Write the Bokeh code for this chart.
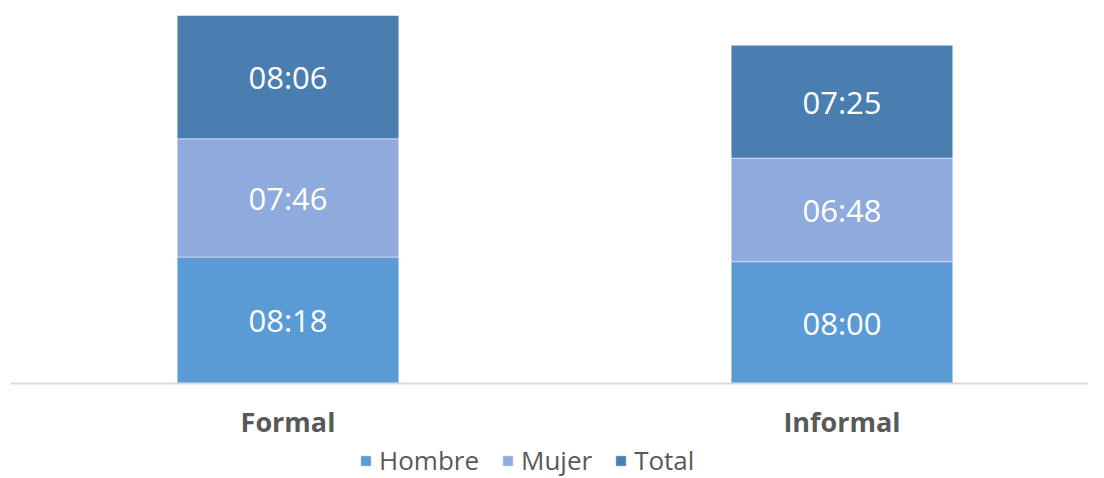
from bokeh.plotting import figure
from bokeh.models import ColumnDataSource, Range1d, Legend, LegendItem, LabelSet, Span
from bokeh.core.properties import value
from bokeh.embed import file_html
from bokeh.resources import INLINE

categories = ["Formal", "Informal"]
series = ["Hombre", "Mujer", "Total"]
hombre = ["08:18", "08:00"]
mujer = ["07:46", "06:48"]
total = ["08:06", "07:25"]
colors = ["#5B9BD5", "#8FAADC", "#4A7EB0"]

def to_h(s):
    h, m = s.split(":")
    return int(h) + int(m) / 60.0

vals = {"Hombre": [to_h(v) for v in hombre],
        "Mujer": [to_h(v) for v in mujer],
        "Total": [to_h(v) for v in total]}
labels = {"Hombre": hombre, "Mujer": mujer, "Total": total}

xs = list(range(len(categories)))

p = figure(width=1088, height=478, output_backend="svg", toolbar_location=None,
           x_range=Range1d(-0.5009, 1.445), y_range=Range1d(-6.24, 25.15),
           min_border_left=10, min_border_right=0, min_border_top=0, min_border_bottom=0)
p.outline_line_color = None
p.grid.visible = False
p.axis.visible = False

font = "Open Sans"
bottom = [0.0] * len(xs)
renderers = []
for s, c in zip(series, colors):
    top = [b + v for b, v in zip(bottom, vals[s])]
    mid = [(b + t) / 2 for b, t in zip(bottom, top)]
    src = ColumnDataSource(dict(x=xs, bottom=bottom, top=top, mid=mid, lab=labels[s]))
    r = p.vbar(x="x", bottom="bottom", top="top", width=0.4, source=src,
               fill_color=c, line_color="white", line_width=0.8, line_alpha=0.6)
    renderers.append(r)
    ls = LabelSet(x="x", y="mid", text="lab", source=src, text_color="white",
                  text_font=value(font), text_font_size="31px", text_align="center",
                  text_baseline="middle")
    p.add_layout(ls)
    bottom = top

# category axis
p.add_layout(Span(location=0, dimension="width", line_color="#D9D9D9", line_width=2))
p.text(x=xs, y=[0] * len(xs), text=categories, y_offset=38,
       text_font=value(font), text_font_style="bold", text_font_size="27px",
       text_color="#595959", text_align="center", text_baseline="middle")

legend = Legend(items=[LegendItem(label=s, renderers=[r]) for s, r in zip(series, renderers)],
                orientation="horizontal", location=(349, 0),
                label_text_font=font, label_text_font_size="26px", label_text_color="#595959",
                glyph_width=13, glyph_height=13, label_standoff=7, spacing=22,
                padding=0, margin=0, border_line_color=None, background_fill_alpha=0)
p.add_layout(legend, "center")

open("out.html", "w").write(file_html(p, INLINE))
